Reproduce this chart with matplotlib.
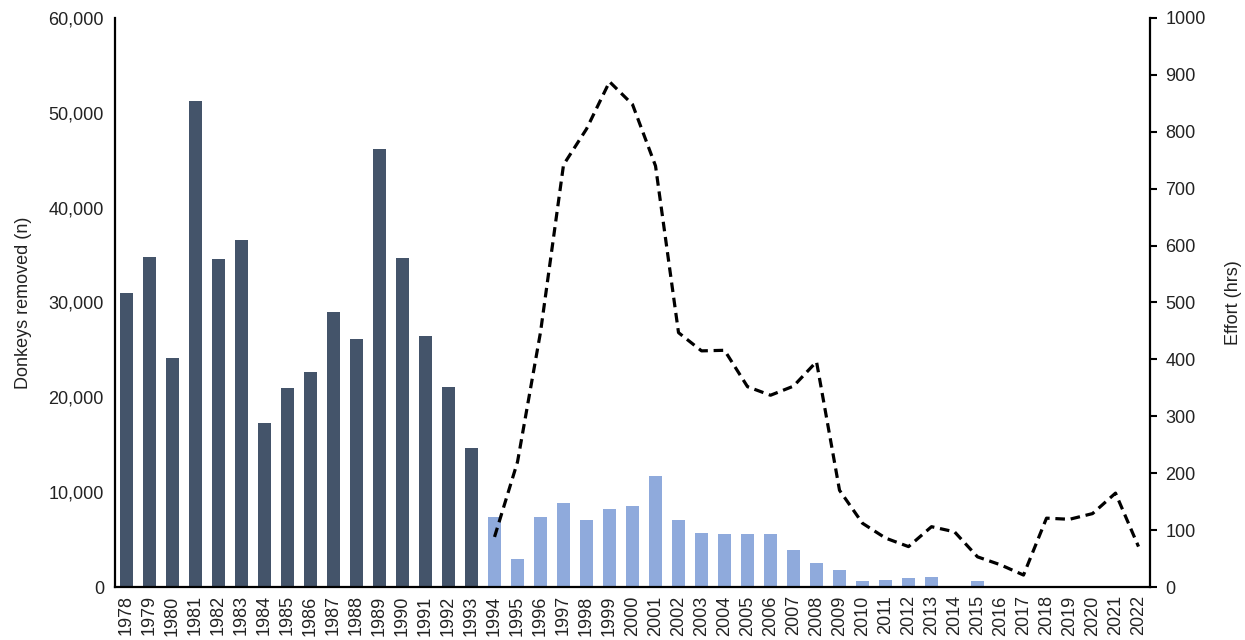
import matplotlib
matplotlib.use("Agg")
from matplotlib import pyplot as plt
from matplotlib.ticker import FuncFormatter, MultipleLocator
import numpy as np

plt.rcParams['font.family'] = ['Liberation Sans', 'DejaVu Sans']

years = list(range(1978, 2023))
# donkeys removed per year (n)
removed_early = [31000, 34800, 24100, 51200, 34600, 36600, 17300, 21000, 22700,
                 29000, 26200, 46200, 34700, 26500, 21100, 14700]
removed_late = [7350, 2950, 7350, 8900, 7100, 8250, 8500, 11700, 7100, 5650,
                5550, 5550, 5550, 3950, 2550, 1800, 650, 770, 900, 1020,
                100, 650, 100, 0, 100, 0, 100, 0, 0]
# effort (hrs), 1994 onwards
effort = [88, 220, 448, 742, 805, 888, 848, 740, 447, 415, 416, 352, 337, 353,
          396, 170, 112, 86, 71, 106, 97, 53, 39, 21, 121, 119, 129, 165, 71]

n_early = len(removed_early)
x = np.arange(len(years))
x_early = x[:n_early]
x_late = x[n_early:]

fig = plt.figure(figsize=(12.45, 6.4), dpi=100)
ax = fig.add_axes([0.0924, 0.0828, 0.8313, 0.8891])
ax.bar(x_early, removed_early, width=0.54, color='#44546A')
ax.bar(x_late, removed_late, width=0.54, color='#8FAADC')
ax.set_xlim(-0.5, len(years) - 0.5)
ax.set_ylim(0, 60000)
ax.yaxis.set_major_locator(MultipleLocator(10000))
ax.yaxis.set_major_formatter(FuncFormatter(lambda v, p: f"{int(v):,}"))
ax.set_xticks(x)
ax.set_xticklabels([str(y) for y in years], rotation=90)
ax.tick_params(axis='both', length=0, labelsize=13, colors='#222222', pad=8)
ax.tick_params(axis='x', pad=6)
ax.set_ylabel("Donkeys removed (n)", fontsize=13, color='#222222', labelpad=12)
for s in ['top', 'right']:
    ax.spines[s].set_visible(False)
for s in ['left', 'bottom']:
    ax.spines[s].set_linewidth(1.6)

ax2 = ax.twinx()
ax2.plot(x_late, effort, color='black', linestyle=(0, (3, 1.8)), linewidth=2.3)
ax2.set_ylim(0, 1000)
ax2.yaxis.set_major_locator(MultipleLocator(100))
ax2.tick_params(axis='y', length=5, width=1.5, labelsize=13, colors='#222222', pad=6)
ax2.tick_params(axis='y', color='black')
ax2.set_ylabel("Effort (hrs)", fontsize=13, color='#222222', labelpad=14)
for s in ['top', 'left', 'bottom']:
    ax2.spines[s].set_visible(False)
ax2.spines['right'].set_linewidth(1.6)

fig.savefig("out.png", dpi=100)
